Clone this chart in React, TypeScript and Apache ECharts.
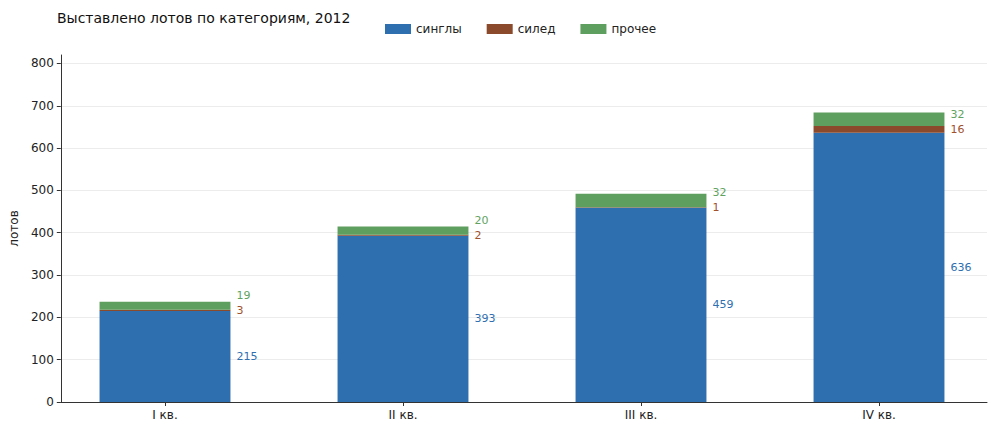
import React, { useEffect, useRef } from "react";
import * as echarts from "echarts";

const quarters = ["I кв.", "II кв.", "III кв.", "IV кв."];
const singles = [215, 393, 459, 636];
const siled = [3, 2, 1, 16];
const other = [19, 20, 32, 32];
const seriesNames = ["синглы", "силед", "прочее"];
const yTicks = [0, 100, 200, 300, 400, 500, 600, 700, 800];

const FONT = "DejaVu Sans";
const Y_MAX = 820;
const GRID_TOP = 55;
const GRID_BOTTOM = 31;
const GRID_H = 433 - GRID_TOP - GRID_BOTTOM;
const PX_PER_UNIT = GRID_H / Y_MAX;

const BLUE = "#2e6fb0";
const BROWN = "#8c4a2c";
const GREEN = "#5e9e5e";

export default function App() {
  const ref = useRef<HTMLDivElement>(null);

  useEffect(() => {
    if (!ref.current) return;
    const chart = echarts.init(ref.current, undefined, { renderer: "svg" });

    const labelBase = {
      show: true,
      position: "right" as const,
      distance: 6,
      fontFamily: FONT,
      fontSize: 11,
    };

    chart.setOption({
      animation: false,
      backgroundColor: "#ffffff",
      textStyle: { fontFamily: FONT },
      title: {
        text: "Выставлено лотов по категориям, 2012",
        left: 52,
        top: 6,
        textStyle: { fontFamily: FONT, fontSize: 14, fontWeight: "normal", color: "#111" },
      },
      legend: {
        data: seriesNames,
        left: 380,
        top: 18,
        itemWidth: 26,
        itemHeight: 10,
        itemGap: 25,
        icon: "rect",
        textStyle: { fontFamily: FONT, fontSize: 12, color: "#222" },
      },
      grid: [
        { left: 57, right: 13, top: GRID_TOP, bottom: GRID_BOTTOM },
        { left: 46, right: 2, top: GRID_TOP, bottom: GRID_BOTTOM },
      ],
      xAxis: [
        {
          type: "value",
          gridIndex: 0,
          min: 0,
          max: 1,
          axisLine: { show: true, onZero: false, lineStyle: { color: "#333", width: 1 } },
          axisTick: { show: false },
          axisLabel: { show: false },
          splitLine: { show: false },
        },
        {
          type: "category",
          gridIndex: 1,
          data: quarters,
          axisLine: { show: false },
          axisTick: { show: true, alignWithLabel: true, length: 4, lineStyle: { color: "#333" } },
          axisLabel: { fontFamily: FONT, fontSize: 12, color: "#222", margin: 7 },
        },
      ],
      yAxis: [
        {
          type: "value",
          gridIndex: 0,
          min: 0,
          max: Y_MAX,
          interval: 100,
          name: "лотов",
          nameLocation: "middle",
          nameGap: 34,
          nameTextStyle: { fontFamily: FONT, fontSize: 12, color: "#222" },
          axisLine: { show: true, lineStyle: { color: "#333", width: 1 } },
          axisTick: { show: true, length: 4, lineStyle: { color: "#333" }, customValues: yTicks },
          axisLabel: {
            fontFamily: FONT,
            fontSize: 12,
            color: "#222",
            margin: 7,
            customValues: yTicks,
          },
          splitLine: { show: true, lineStyle: { color: "#ececec", width: 1 } },
        },
        {
          type: "value",
          gridIndex: 1,
          min: 0,
          max: Y_MAX,
          show: false,
          splitLine: { show: false },
        },
      ],
      series: [
        {
          name: seriesNames[0],
          type: "bar",
          stack: "lots",
          xAxisIndex: 1,
          yAxisIndex: 1,
          barWidth: "55%",
          data: singles,
          itemStyle: { color: BLUE },
          label: { ...labelBase, color: BLUE },
        },
        {
          name: seriesNames[1],
          type: "bar",
          stack: "lots",
          xAxisIndex: 1,
          yAxisIndex: 1,
          barWidth: "55%",
          data: siled,
          itemStyle: { color: BROWN },
          label: { ...labelBase, color: "#a0522d" },
        },
        {
          name: seriesNames[2],
          type: "bar",
          stack: "lots",
          xAxisIndex: 1,
          yAxisIndex: 1,
          barWidth: "55%",
          itemStyle: { color: GREEN },
          // each label sits 15px above the "силед" label beside it
          data: other.map((v, i) => ({
            value: v,
            label: {
              ...labelBase,
              color: "#5fa35f",
              offset: [0, ((siled[i] + v) / 2) * PX_PER_UNIT - 15],
            },
          })),
        },
      ],
    });

    return () => chart.dispose();
  }, []);

  return (
    <div
      ref={ref}
      style={{ position: "fixed", left: 0, top: 0, width: 1000, height: 433 }}
    />
  );
}
